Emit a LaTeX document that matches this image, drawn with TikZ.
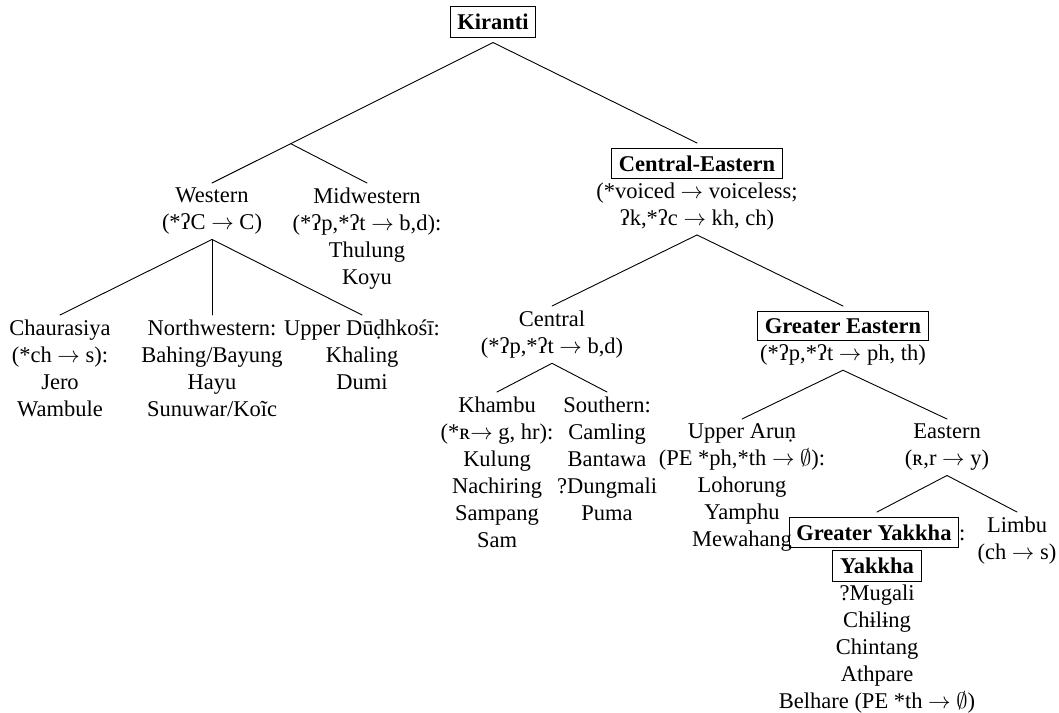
\documentclass[tikz,border=0pt]{standalone}
\usepackage{fontspec}
\setmainfont{Liberation Serif}
\usetikzlibrary{positioning,calc}
\tikzset{every picture/.style={line cap=round, line join=round}}
\tikzset{lang/.style={align=center, inner xsep=1pt, inner ysep=2pt, anchor=north}}
\tikzset{branch/.style={draw, thin}}
\newcommand{\grp}[1]{\fbox{\textbf{#1}}}
\newcommand{\chg}{$\rightarrow$}

\begin{document}
\begin{tikzpicture}[x=0.4444pt, y=-0.4444pt]
  \useasboundingbox (0,0) rectangle (1059,713);

  % 根
  \node[lang, anchor=center] (kiranti) at (493,22) {\grp{Kiranti}};

  % 西部
  \node[lang] (western)    at (212,183) {Western\\(*ʔC \chg{} C)};
  \node[lang] (midwestern) at (367,183) {Midwestern\\(*ʔp,*ʔt \chg{} b,d):\\Thulung\\Koyu};
  \node[lang] (chaurasiya)   at (60,315)  {Chaurasiya\\(*ch \chg{} s):\\Jero\\Wambule};
  \node[lang] (northwestern) at (212,315) {Northwestern:\\Bahing/Bayung\\Hayu\\Sunuwar/Koĩc};
  \node[lang] (dudhkosi)     at (362,315) {Upper Dūḍhkośī:\\Khaling\\Dumi};

  % 中東部
  \node[lang] (centeast) at (697,143)
       {\grp{Central-Eastern}\\(*voiced \chg{} voiceless;\\ʔk,*ʔc \chg{} kh, ch)};
  \node[lang] (central)  at (552,306) {Central\\(*ʔp,*ʔt \chg{} b,d)};
  \node[lang] (khambu)   at (497,392) {Khambu\\(*ʀ\chg{} g, hr):\\Kulung\\Nachiring\\Sampang\\Sam};
  \node[lang] (southern) at (607,392) {Southern:\\Camling\\Bantawa\\?Dungmali\\Puma};

  % 大東部
  \node[lang] (greatereast) at (843,306) {\grp{Greater Eastern}\\(*ʔp,*ʔt \chg{} ph, th)};
  \node[lang] (upperarun)   at (742,419)
       {Upper Aruṇ\\(PE *ph,*th \chg{} $\emptyset$):\\Lohorung\\Yamphu\\Mewahang};
  \node[lang] (eastern)     at (947,419) {Eastern\\(ʀ,r \chg{} y)};
  \node[lang] (gyakkha)     at (877,512)
       {\grp{Greater Yakkha}:\\\grp{Yakkha}\\?Mugali\\Chɨlɨng\\Chintang\\Athpare\\Belhare (PE *th \chg{} $\emptyset$)};
  \node[lang] (limbu)       at (1017,512) {Limbu\\(ch \chg{} s)};

  % 枝
  \coordinate (wjunc) at ($(kiranti.south)!0.72!(western.north)$);
  \draw[branch] (kiranti.south) -- (western.north);
  \draw[branch] (wjunc) -- (midwestern.north);
  \draw[branch] (kiranti.south) -- (centeast.north);
  \foreach \c in {chaurasiya,northwestern,dudhkosi}
    \draw[branch] (western.south) -- (\c.north);
  \foreach \c in {central,greatereast}
    \draw[branch] (centeast.south) -- (\c.north);
  \foreach \c in {khambu,southern}
    \draw[branch] (central.south) -- (\c.north);
  \foreach \c in {upperarun,eastern}
    \draw[branch] (greatereast.south) -- (\c.north);
  \foreach \c in {gyakkha,limbu}
    \draw[branch] (eastern.south) -- (\c.north);
\end{tikzpicture}
\end{document}
